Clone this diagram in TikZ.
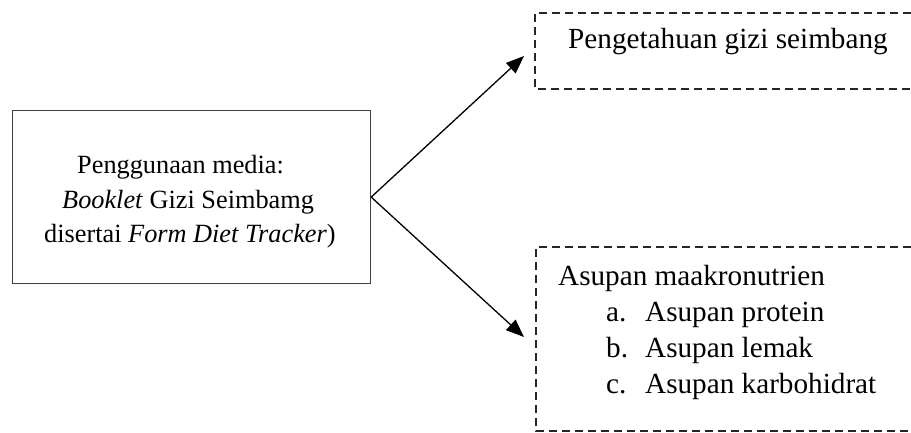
\documentclass[tikz,border=0pt]{standalone}
\usepackage{fontspec}
\setmainfont{Liberation Serif}
\usetikzlibrary{arrows.meta}
\begin{document}
\begin{tikzpicture}[x=1pt,y=-1pt,
  bigtxt/.style={font=\fontsize{29.2}{35}\selectfont, inner sep=0pt, anchor=base west},
  smalltxt/.style={font=\fontsize{26.3}{34}\selectfont, inner sep=0pt, anchor=base west},
  srcbox/.style={draw=black!75, line width=1.2pt, inner sep=0pt, anchor=north west},
  dbox/.style={draw=black!85, line width=1.3pt, dash pattern=on 8pt off 5pt},
  arr/.style={draw=black, line width=1.3pt, -{Triangle[length=18pt,width=14pt]}}]
\useasboundingbox (0,0) rectangle (911,432);
% left box
\node[srcbox, minimum width=358pt, minimum height=173pt] (src) at (12,110) {};
\node[smalltxt] (l1) at (77,173) {Penggunaan media:};
\node[smalltxt] (l2) at (62,208) {\textit{Booklet} Gizi Seimbamg};
\node[smalltxt] (l3) at (44,242) {disertai \textit{Form Diet Tracker})};
% top dashed box (open to the right)
\draw[dbox] (911,13) -- (535,13) -- (535,89) -- (911,89);
\node[bigtxt] (r1) at (568,48) {Pengetahuan gizi seimbang};
% bottom dashed box (open to the right)
\draw[dbox] (911,247) -- (536,247) -- (536,431) -- (911,431);
\node[bigtxt] (b0) at (558,285) {Asupan maakronutrien};
\node[bigtxt] (ba) at (606,321) {a.};
\node[bigtxt] (bat) at (645,321) {Asupan protein};
\node[bigtxt] (bb) at (606,357) {b.};
\node[bigtxt] (bbt) at (645,357) {Asupan lemak};
\node[bigtxt] (bc) at (606,393) {c.};
\node[bigtxt] (bct) at (645,393) {Asupan karbohidrat};
% arrows
\coordinate (tip1) at (524,56);
\coordinate (tip2) at (524,337);
\draw[arr] (src.east) -- (tip1);
\draw[arr] (src.east) -- (tip2);
\end{tikzpicture}
\end{document}
